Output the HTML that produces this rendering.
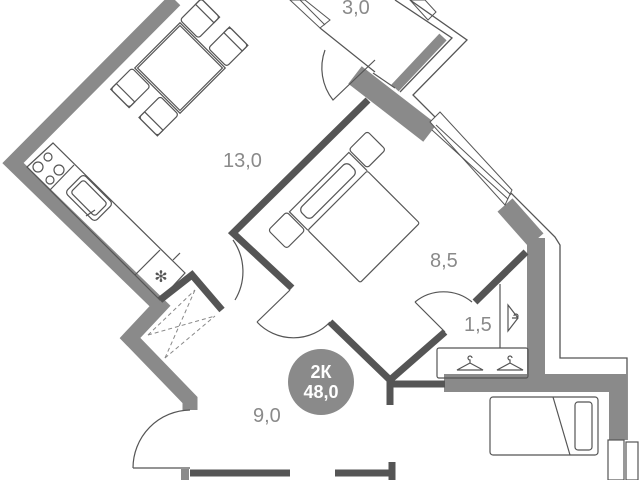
<!DOCTYPE html>
<html><head><meta charset="utf-8"><style>
html,body{margin:0;padding:0;background:#fff;width:640px;height:480px;overflow:hidden}
text{font-family:"Liberation Sans",sans-serif}
</style></head><body>
<svg width="640" height="480" viewBox="0 0 640 480" xmlns="http://www.w3.org/2000/svg">
<g fill="none" stroke-linejoin="miter" stroke-linecap="butt">
<polyline points="410,0 467,40 413,95 555,237 560,245 560,358 627,358 627,440" stroke="#555" stroke-width="1.3"/>
<polyline points="395,0 452,38 400,92" stroke="#555" stroke-width="1.3"/>
<polyline points="175,0 13,163 160,306 130,338 190,400 190,410" stroke="#8a8a8a" stroke-width="15"/>
<line x1="443" y1="37" x2="395" y2="88" stroke="#8a8a8a" stroke-width="10"/>
<line x1="355" y1="75" x2="430" y2="133" stroke="#8a8a8a" stroke-width="22"/>
<line x1="505" y1="205" x2="536" y2="240" stroke="#8a8a8a" stroke-width="20"/>
<polyline points="536,238 536,383 618,383 618,440" stroke="#8a8a8a" stroke-width="18"/>
<line x1="444" y1="383" x2="540" y2="383" stroke="#8a8a8a" stroke-width="18"/>
<polygon points="430,122 440,112 512,190 505,205" fill="#fff" stroke="#555" stroke-width="1"/>
<line x1="432" y1="130" x2="508" y2="199" stroke="#555" stroke-width="1"/>
<line x1="436" y1="125" x2="511" y2="195" stroke="#555" stroke-width="1"/>
<polygon points="290,0 305,0 330,20 320,28" stroke="#555" stroke-width="1"/>
<polygon points="410,0 425,0 436,12 428,20" stroke="#555" stroke-width="1"/>
<line x1="300" y1="0" x2="325" y2="25" stroke="#555" stroke-width="1"/>
<polyline points="368,100 233,233 292,288" stroke="#555" stroke-width="7"/>
<polyline points="330,322 390,380 390,405" stroke="#555" stroke-width="7"/>
<line x1="390" y1="380" x2="445" y2="332" stroke="#555" stroke-width="7"/>
<line x1="475" y1="302" x2="526" y2="252" stroke="#555" stroke-width="7"/>
<line x1="390" y1="384" x2="445" y2="384" stroke="#555" stroke-width="7"/>
<polyline points="160,300 192,275 222,310" stroke="#555" stroke-width="7"/>
<line x1="190" y1="473" x2="290" y2="473" stroke="#555" stroke-width="7"/>
<line x1="335" y1="473" x2="392" y2="473" stroke="#555" stroke-width="7"/>
<line x1="392" y1="462" x2="392" y2="480" stroke="#555" stroke-width="7"/>
<line x1="185" y1="469" x2="185" y2="480" stroke="#8a8a8a" stroke-width="8"/>
<line x1="320" y1="28" x2="375" y2="72" stroke="#555" stroke-width="1.2"/>
<line x1="373" y1="73" x2="395" y2="88" stroke="#555" stroke-width="1.2"/>
<g stroke="#555" stroke-width="1.2">
<path d="M375,60 L333,100 A52,52 0 0 1 325,50"/>
<path d="M233,240 A55,55 0 0 1 235,300"/>
<path d="M257,322 L290,290 M257,322 A50,50 0 0 0 330,322"/>
<path d="M415,302 L445,332 M415,302 A45,45 0 0 1 472,302"/>
<path d="M133,468 L190,468 M133,468 A58,58 0 0 1 190,410"/>
</g>
<g stroke="#888" stroke-width="1" stroke-dasharray="4,3">
<line x1="148" y1="335" x2="215" y2="316"/>
<line x1="165" y1="358" x2="195" y2="290"/>
<line x1="148" y1="335" x2="195" y2="290"/>
<line x1="165" y1="358" x2="215" y2="316"/>
</g>
<g stroke="#555" stroke-width="1.2">
<polygon points="27,167 53,143 185,273 160,300"/>
<line x1="50" y1="190" x2="74" y2="165"/>
<line x1="135" y1="275" x2="160" y2="250"/>
<line x1="173" y1="260" x2="180" y2="253"/>
<circle cx="38" cy="167" r="5"/><circle cx="48" cy="157" r="4"/>
<circle cx="59" cy="170" r="5"/><circle cx="50" cy="180" r="4"/>
<rect x="68" y="185" width="42" height="26" rx="4" transform="rotate(45 89 198)"/>
<rect x="72" y="189" width="34" height="18" rx="3" transform="rotate(45 89 198)"/>
<line x1="86" y1="216" x2="95" y2="210"/>
</g>
<text x="161" y="282" font-size="16" fill="#555" text-anchor="middle" style="font-family:'DejaVu Sans',sans-serif">✻</text>
<g stroke="#555" stroke-width="1.2" transform="rotate(45 180 68)">
<rect x="148" y="36" width="64" height="64"/>
<rect x="150" y="38" width="60" height="60"/>
<rect x="146" y="4" width="26" height="30" rx="3"/><rect x="146" y="4" width="26" height="8"/>
<rect x="186" y="4" width="26" height="30" rx="3"/><rect x="186" y="4" width="26" height="8"/>
<rect x="146" y="102" width="26" height="30" rx="3"/><rect x="146" y="124" width="26" height="8"/>
<rect x="186" y="102" width="26" height="30" rx="3"/><rect x="186" y="124" width="26" height="8"/>
</g>
<!-- bed -->
<g stroke="#555" stroke-width="1.2" transform="translate(363,226) rotate(-45)">
<rect x="-42" y="-36" width="84" height="74" rx="2"/>
<polyline points="-42,-36 -42,-62 42,-62 42,-36"/>
<rect x="-34" y="-57" width="68" height="15" rx="5"/>
<rect x="-70" y="-64" width="26" height="26" rx="3"/>
<rect x="44" y="-64" width="26" height="26" rx="3"/>
</g>
<g stroke="#555" stroke-width="1.2">
<rect x="437" y="348" width="91" height="30" rx="2"/>
<line x1="500" y1="284" x2="500" y2="348"/>
<path d="M470,363 l-13,7 h26 z M470,363 v-3 a2,2 0 1 1 2,-2"/>
<path d="M510,363 l-13,7 h26 z M510,363 v-3 a2,2 0 1 1 2,-2"/>
<path d="M508,305 v26 l10,-13 z M512,318 h4 a2,2 0 1 0 -2,-2"/>
</g>
<g stroke="#555" stroke-width="1.2">
<rect x="490" y="397" width="108" height="58" rx="3"/>
<line x1="553" y1="397" x2="570" y2="455"/>
<rect x="575" y="402" width="17" height="48" rx="3"/>
<rect x="608" y="440" width="16" height="40"/>
<rect x="626" y="442" width="12" height="38"/>
</g>
</g>
<g fill="#8a8a8a" font-size="20">
<text x="223" y="167">13,0</text>
<text x="430" y="267">8,5</text>
<text x="464" y="331">1,5</text>
<text x="253" y="422">9,0</text>
<text x="342" y="14">3,0</text>
</g>
<circle cx="321" cy="382" r="33" fill="#8a8a8a"/>
<text x="321" y="378" font-size="18" fill="#fff" text-anchor="middle" font-weight="bold">2К</text>
<text x="321" y="398" font-size="18" fill="#fff" text-anchor="middle" font-weight="bold">48,0</text>
</svg>
</body></html>
